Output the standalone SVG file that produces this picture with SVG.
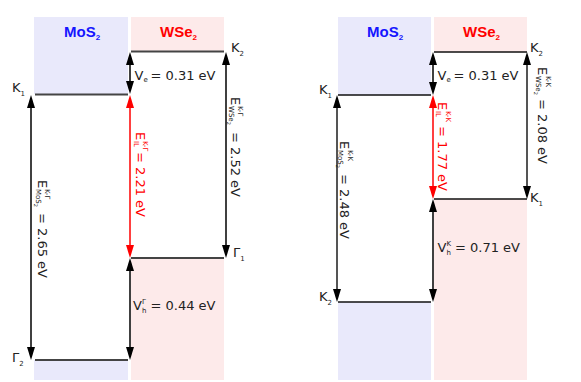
<svg xmlns="http://www.w3.org/2000/svg" width="581" height="382" viewBox="0 0 581 382">
<style>
text{font-family:"DejaVu Sans","Liberation Sans",sans-serif;font-size:13px;fill:#222}
.s{font-size:7px}
.ss{font-size:5px}
.h{font-family:"Liberation Sans",Arial,sans-serif;font-weight:bold;font-size:15px}
.hs{font-family:"Liberation Sans",Arial,sans-serif;font-weight:bold;font-size:8px}
.blue{fill:#e9e9fb}
.pink{fill:#fdeaea}
.lvl{stroke:#444;stroke-width:2}
.lvl2{stroke:#111;stroke-width:1.5}
.ar{stroke:#000;stroke-width:1.5;fill:none;marker-start:url(#hk);marker-end:url(#hk)}
.arg{stroke:#555;stroke-width:2;fill:none;marker-start:url(#hk);marker-end:url(#hk)}
.arr{stroke:#f00;stroke-width:1.5;fill:none;marker-start:url(#hr);marker-end:url(#hr)}
.red{fill:#f00}
</style>
<defs>
<marker id="hk" markerUnits="userSpaceOnUse" markerWidth="13" markerHeight="8" refX="10" refY="4" orient="auto-start-reverse"><path d="M0,0L13,4L0,8z" fill="#000"/></marker>
<marker id="hr" markerUnits="userSpaceOnUse" markerWidth="13" markerHeight="8" refX="10" refY="4" orient="auto-start-reverse"><path d="M0,0L13,4L0,8z" fill="#f00"/></marker>
</defs>

<g id="left-mos2">
<rect class="blue" x="34" y="17" width="94" height="77"/>
<rect class="blue" x="34" y="360" width="94" height="20"/>
<line class="lvl" x1="35" y1="94.5" x2="128" y2="94.5"/>
<line class="lvl" x1="35" y1="360" x2="128" y2="360"/>
<text class="h" x="64" y="37" style="fill:#1515ff">MoS<tspan class="hs" dy="3">2</tspan></text>
<text x="12" y="92">K<tspan class="s" dy="4">1</tspan></text>
<text x="12" y="362">Γ<tspan class="s" dy="4">2</tspan></text>
</g>

<g id="left-wse2">
<rect class="pink" x="131" y="17" width="93" height="34"/>
<rect class="pink" x="131" y="258" width="93" height="122"/>
<line class="lvl" x1="131" y1="51.5" x2="224" y2="51.5"/>
<line class="lvl" x1="131" y1="258" x2="224" y2="258"/>
<text class="h" x="160" y="37" style="fill:#f00">WSe<tspan class="hs" dy="3">2</tspan></text>
<text x="231" y="52">K<tspan class="s" dy="4">2</tspan></text>
<text x="233" y="257">Γ<tspan class="s" dy="4">1</tspan></text>
</g>

<g id="right-mos2">
<rect class="blue" x="338" y="17" width="93" height="78"/>
<rect class="blue" x="338" y="302" width="93" height="78"/>
<line class="lvl2" x1="338" y1="95" x2="431" y2="95"/>
<line class="lvl2" x1="338" y1="302" x2="431" y2="302"/>
<text class="h" x="367" y="37" style="fill:#1515ff">MoS<tspan class="hs" dy="3">2</tspan></text>
<text x="319" y="94">K<tspan class="s" dy="4">1</tspan></text>
<text x="319" y="301">K<tspan class="s" dy="4">2</tspan></text>
</g>

<g id="right-wse2">
<rect class="pink" x="434" y="17" width="93" height="35"/>
<rect class="pink" x="434" y="199" width="93" height="181"/>
<line class="lvl2" x1="434" y1="52" x2="527" y2="52"/>
<line class="lvl2" x1="434" y1="199" x2="527" y2="199"/>
<text class="h" x="463" y="37" style="fill:#f00">WSe<tspan class="hs" dy="3">2</tspan></text>
<text x="530" y="52">K<tspan class="s" dy="4">2</tspan></text>
<text x="530" y="202">K<tspan class="s" dy="4">1</tspan></text>
</g>

<g id="connectors">
<line class="ar" x1="31" y1="98" x2="31" y2="357"/>
<line class="ar" x1="130" y1="55" x2="130" y2="91"/>
<line class="arr" x1="130" y1="98" x2="130" y2="255"/>
<line class="ar" x1="226" y1="55" x2="226" y2="255"/>
<line class="ar" x1="130" y1="261" x2="130" y2="357"/>
<line class="arg" x1="337" y1="98" x2="337" y2="299"/>
<line class="ar" x1="433" y1="55" x2="433" y2="92"/>
<line class="arr" x1="433" y1="98" x2="433" y2="196"/>
<line class="arg" x1="527" y1="55" x2="527" y2="196"/>
<line class="ar" x1="433" y1="202" x2="433" y2="299"/>
</g>

<g id="labels">
<text x="134.5" y="80">V<tspan class="s" dy="2">e</tspan><tspan x="150.5" y="80">= 0.31 eV</tspan></text>
<text x="133" y="310">V<tspan class="s" x="142" y="304">Γ</tspan><tspan class="s" x="142" y="313">h</tspan><tspan x="150.5" y="310">= 0.44 eV</tspan></text>
<text x="437.5" y="80">V<tspan class="s" dy="2">e</tspan><tspan x="453.5" y="80">= 0.31 eV</tspan></text>
<text x="437.5" y="252">V<tspan class="s" x="446.5" y="246">K</tspan><tspan class="s" x="446.5" y="255">h</tspan><tspan x="455" y="252">= 0.71 eV</tspan></text>

<g transform="translate(37.5,180) rotate(90)"><text x="0" y="0">E<tspan class="s" x="9" y="-7.5">K-Γ</tspan><tspan class="s" x="9" y="2">MoS<tspan class="ss" dy="2">2</tspan></tspan><tspan x="33" y="0">= 2.65 eV</tspan></text></g>
<g transform="translate(135.5,132) rotate(90)"><text class="red" x="0" y="0">E<tspan class="s red" x="9" y="-7.5">K-Γ</tspan><tspan class="s red" x="9" y="2">IL</tspan><tspan x="20" y="0">= 2.21 eV</tspan></text></g>
<g transform="translate(230.5,97) rotate(90)"><text x="0" y="0">E<tspan class="s" x="9" y="-7.5">K-Γ</tspan><tspan class="s" x="9" y="2">WSe<tspan class="ss" dy="2">2</tspan></tspan><tspan x="35" y="0">= 2.52 eV</tspan></text></g>
<g transform="translate(340,141) rotate(90)"><text x="0" y="0">E<tspan class="s" x="9" y="-7.5">K-K</tspan><tspan class="s" x="9" y="2">MoS<tspan class="ss" dy="2">2</tspan></tspan><tspan x="33" y="0">= 2.48 eV</tspan></text></g>
<g transform="translate(438,102) rotate(90)"><text class="red" x="0" y="0">E<tspan class="s red" x="9" y="-7.5">K-K</tspan><tspan class="s red" x="9" y="2">IL</tspan><tspan x="24" y="0">= 1.77 eV</tspan></text></g>
<g transform="translate(538,67) rotate(90)"><text x="0" y="0">E<tspan class="s" x="9" y="-7.5">K-K</tspan><tspan class="s" x="9" y="2">WSe<tspan class="ss" dy="2">2</tspan></tspan><tspan x="32" y="0">= 2.08 eV</tspan></text></g>
</g>
</svg>
